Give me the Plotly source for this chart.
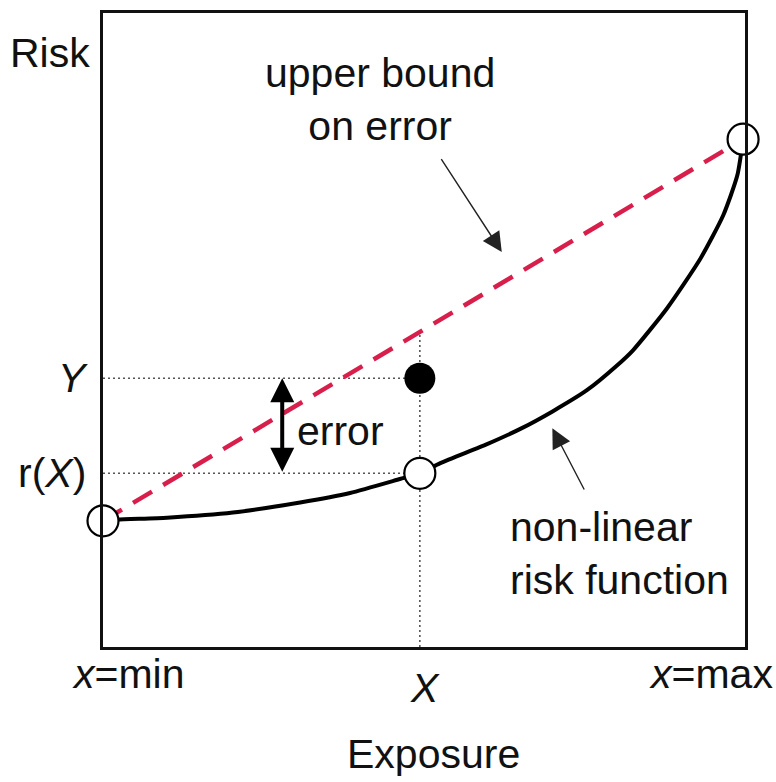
import plotly.graph_objects as go

# ---- data (x: exposure scaled 0..1 between x=min and x=max; y: risk 0..100) ----
curve_x = [0.000, 0.022, 0.100, 0.203, 0.308, 0.386, 0.464, 0.495, 0.527, 0.600,
           0.652, 0.703, 0.756, 0.803, 0.828, 0.881, 0.933, 0.969, 0.991, 1.000]
curve_y = [19.9, 20.1, 20.4, 21.2, 22.8, 24.3, 26.5, 27.4, 29.0, 32.0,
           34.4, 37.2, 40.5, 44.4, 46.8, 53.4, 61.2, 68.1, 74.4, 80.1]

x_min, x_max = 0.0, 1.0
r_min, r_max = 19.9, 80.1
X_val = 0.495
rX_val = 27.4
Y_val = 42.4
bound_at_X = r_min + (r_max - r_min) * (X_val - x_min) / (x_max - x_min)

error_arrow_x = 0.28
upper_arrow_tail = (0.527, 77.2)
upper_arrow_tip = (0.623, 62.3)
nl_arrow_tail = (0.753, 24.6)
nl_arrow_tip = (0.702, 34.5)

FONT = "Liberation Sans, Arial, Helvetica, sans-serif"
FS = 41
RED = "#d81e4a"

fig = go.Figure()

# dotted guide lines
dot = dict(color="#555555", width=1.6, dash="2px,3px")
fig.add_trace(go.Scatter(x=[x_min, X_val], y=[Y_val, Y_val], mode="lines", line=dot, hoverinfo="skip"))
fig.add_trace(go.Scatter(x=[x_min, X_val], y=[rX_val, rX_val], mode="lines", line=dot, hoverinfo="skip"))
fig.add_trace(go.Scatter(x=[X_val, X_val], y=[0, bound_at_X], mode="lines", line=dot, hoverinfo="skip"))

# linear upper bound (dashed red)
fig.add_trace(go.Scatter(x=[x_min, x_max], y=[r_min, r_max], mode="lines",
                         line=dict(color=RED, width=4.5, dash="22px,13px"), hoverinfo="skip"))

# non-linear risk function
fig.add_trace(go.Scatter(x=curve_x, y=curve_y, mode="lines",
                         line=dict(color="black", width=4, shape="spline", smoothing=0.6),
                         hoverinfo="skip"))

# open circles
fig.add_trace(go.Scatter(x=[x_min, X_val, x_max], y=[r_min, rX_val, r_max], mode="markers",
                         marker=dict(size=31, color="white", line=dict(color="black", width=2.2)),
                         cliponaxis=False, hoverinfo="skip"))
# filled point
fig.add_trace(go.Scatter(x=[X_val], y=[Y_val], mode="markers",
                         marker=dict(size=31, color="black"), cliponaxis=False, hoverinfo="skip"))

ann = []
def txt(text, x, y, xanchor="center", yanchor="middle", xref="x", yref="y", align="center", **kw):
    ann.append(dict(text=text, x=x, y=y, xref=xref, yref=yref, xanchor=xanchor, yanchor=yanchor,
                    showarrow=False, align=align, font=dict(family=FONT, size=FS, color="#111111"), **kw))

txt("Risk", -0.017, 93.7, xanchor="right", xref="paper")
txt("<i>Y</i>", -0.02, Y_val, xanchor="right", xref="paper")
txt("r(<i>X</i>)", -0.023, rX_val, xanchor="right", xref="paper")
txt("<i>x</i>=min", 0.04, 0, yanchor="top", yshift=-2)
txt("<i>x</i>=max", 0.95, 0, yanchor="top", yshift=-2)
txt("<i>X</i>", X_val + 0.008, 0, yanchor="top", yshift=-16)
txt("Exposure", 0.515, 0, yanchor="top", xref="paper", yshift=-82)
txt("error", 0.30, 34.0, xanchor="left")
txt("upper bound<br>on error", 0.433, 86.3)
txt("non-linear<br>risk function", 0.633, 14.8, xanchor="left", align="left")

# arrows
ann.append(dict(x=error_arrow_x, y=Y_val, ax=error_arrow_x, ay=rX_val, xref="x", yref="y",
                axref="x", ayref="y", text="", showarrow=True, arrowside="end+start",
                arrowhead=2, arrowsize=1.2, arrowwidth=4, arrowcolor="black",
                standoff=0, startstandoff=0))
ann.append(dict(x=upper_arrow_tip[0], y=upper_arrow_tip[1], ax=upper_arrow_tail[0], ay=upper_arrow_tail[1],
                xref="x", yref="y", axref="x", ayref="y", text="", showarrow=True,
                arrowhead=2, arrowsize=2.8, arrowwidth=1.4, arrowcolor="#222222"))
ann.append(dict(x=nl_arrow_tip[0], y=nl_arrow_tip[1], ax=nl_arrow_tail[0], ay=nl_arrow_tail[1],
                xref="x", yref="y", axref="x", ayref="y", text="", showarrow=True,
                arrowhead=2, arrowsize=2.8, arrowwidth=1.4, arrowcolor="#222222"))

fig.update_layout(
    width=776, height=782,
    margin=dict(l=103, r=31, t=10, b=135),
    plot_bgcolor="white", paper_bgcolor="white",
    showlegend=False,
    annotations=ann,
    xaxis=dict(range=[0, 1.003], showgrid=False, zeroline=False, showticklabels=False, ticks="",
               showline=True, mirror=True, linecolor="#111111", linewidth=2.6, fixedrange=True),
    yaxis=dict(range=[0, 100], showgrid=False, zeroline=False, showticklabels=False, ticks="",
               showline=True, mirror=True, linecolor="#111111", linewidth=2.6, fixedrange=True),
)

fig.write_html("out.html", config={"displayModeBar": False},
               post_script="document.body.style.margin='0';document.body.style.overflow='hidden';")
